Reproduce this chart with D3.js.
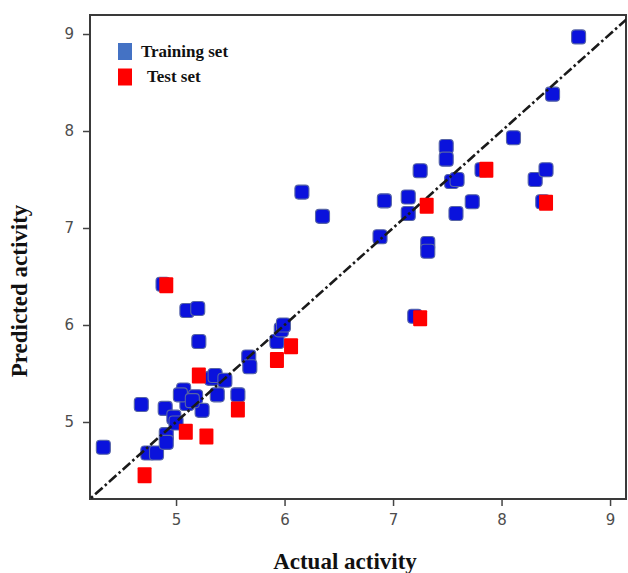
<!DOCTYPE html>
<html><head><meta charset="utf-8">
<script src="https://cdn.jsdelivr.net/npm/d3@7"></script>
<style>body{margin:0;background:#fff}svg{display:block}</style>
</head><body>
<script>
const trainingX = [4.33,4.68,4.74,4.82,4.91,4.91,4.90,4.98,5.00,5.07,5.10,5.18,5.24,5.33,5.36,5.45,5.38,5.57,5.67,5.68,5.93,5.97,5.99,5.21,5.10,5.20,4.88,6.16,6.35,6.92,7.14,7.14,6.88,7.32,7.32,7.25,7.49,7.49,7.54,7.59,7.73,7.58,7.82,8.11,8.31,8.41,8.38,7.20,8.71,8.47,5.04,5.15];
const trainingY = [4.74,5.18,4.68,4.68,4.87,4.79,5.14,5.05,4.99,5.33,5.19,5.26,5.12,5.45,5.48,5.43,5.28,5.28,5.67,5.57,5.83,5.95,6.00,5.83,6.15,6.17,6.42,7.37,7.12,7.28,7.32,7.15,6.91,6.84,6.76,7.59,7.84,7.71,7.48,7.50,7.27,7.15,7.60,7.93,7.50,7.60,7.27,6.09,8.97,8.38,5.28,5.22];
const testX = [4.91,5.21,5.09,5.28,5.57,5.93,6.06,4.71,7.31,7.86,8.41,7.25];
const testY = [6.41,5.48,4.90,4.85,5.13,5.64,5.78,4.45,7.23,7.60,7.26,6.07];
const tickValues = [5,6,7,8,9];
const lineEnds = [4.0, 9.5];
const legendLabels = ["Training set","Test set"];
const xTitle = "Actual activity", yTitle = "Predicted activity";

const W = 628, H = 573;
const L = 90, R = 626, T = 15, B = 499;
const svg = d3.select("body").append("svg").attr("width", W).attr("height", H);
const x = d3.scaleLinear().domain([4.207, 9.147]).range([L, R]);
const y = d3.scaleLinear().domain([4.206, 9.196]).range([B, T]);

svg.append("clipPath").attr("id","clip").append("rect")
  .attr("x", L).attr("y", T).attr("width", R-L).attr("height", B-T);

// axes
const xa = svg.append("g").attr("transform", `translate(0,${B})`)
  .call(d3.axisBottom(x).tickValues(tickValues).tickSize(7).tickPadding(8).tickFormat(d3.format("d")));
const ya = svg.append("g").attr("transform", `translate(${L},0)`)
  .call(d3.axisLeft(y).tickValues(tickValues).tickSize(7).tickPadding(9).tickFormat(d3.format("d")));
[xa, ya].forEach(g => {
  g.select(".domain").remove();
  g.selectAll(".tick line").attr("stroke", "#444").attr("stroke-width", 1.5);
  g.selectAll(".tick text").attr("fill", "#4d4d4d").style("font-family", "'DejaVu Sans', Verdana, sans-serif").style("font-size", "15px");
});

// frame
svg.append("rect").attr("x", L).attr("y", T).attr("width", R-L).attr("height", B-T)
  .attr("fill", "none").attr("stroke", "#3a3a3a").attr("stroke-width", 2);

const plot = svg.append("g").attr("clip-path", "url(#clip)");

const tr = trainingX.map((v,i)=>({x:v,y:trainingY[i]}));
const te = testX.map((v,i)=>({x:v,y:testY[i]}));
plot.selectAll("rect.tr").data(tr).join("rect").attr("class","tr")
  .attr("x", d => x(d.x)-7).attr("y", d => y(d.y)-7).attr("width", 14).attr("height", 14)
  .attr("rx", 3.5).attr("fill", "#0a12dc").attr("stroke", "#5664a6").attr("stroke-width", 1.1);

// diagonal line
plot.append("line")
  .attr("x1", x(lineEnds[0])).attr("y1", y(lineEnds[0]))
  .attr("x2", x(lineEnds[1])).attr("y2", y(lineEnds[1]))
  .attr("stroke", "#1a1a1a").attr("stroke-width", 2.6)
  .attr("stroke-dasharray", "10,3,2.5,3");

// test points
plot.selectAll("rect.te").data(te).join("rect").attr("class","te")
  .attr("x", d => x(d.x)-7).attr("y", d => y(d.y)-8).attr("width", 14).attr("height", 16)
  .attr("rx", 1).attr("fill", "#ff0000");

// legend
const lg = svg.append("g");
const legColors = ["#4472c4", "#ff0000"];
legendLabels.forEach((t,i) => {
  lg.append("rect").attr("x", 118).attr("y", 43 + i*25.5).attr("width", 14).attr("height", 17).attr("fill", legColors[i]);
  lg.append("text").attr("x", i===0 ? 141 : 147).attr("y", 57 + i*25)
    .style("font-family", "'Liberation Serif','Times New Roman',serif").style("font-weight", "bold")
    .style("font-size", "17px").attr("fill", "#111").text(t);
});

// titles
svg.append("text").attr("x", 345).attr("y", 569).attr("text-anchor", "middle")
  .style("font-family", "'Liberation Serif','Times New Roman',serif").style("font-weight", "bold")
  .style("font-size", "23px").attr("fill", "#111").text(xTitle);
svg.append("text").attr("transform", `translate(27,291) rotate(-90)`).attr("text-anchor", "middle")
  .style("font-family", "'Liberation Serif','Times New Roman',serif").style("font-weight", "bold")
  .style("font-size", "23px").attr("fill", "#111").text(yTitle);
</script>
</body></html>
